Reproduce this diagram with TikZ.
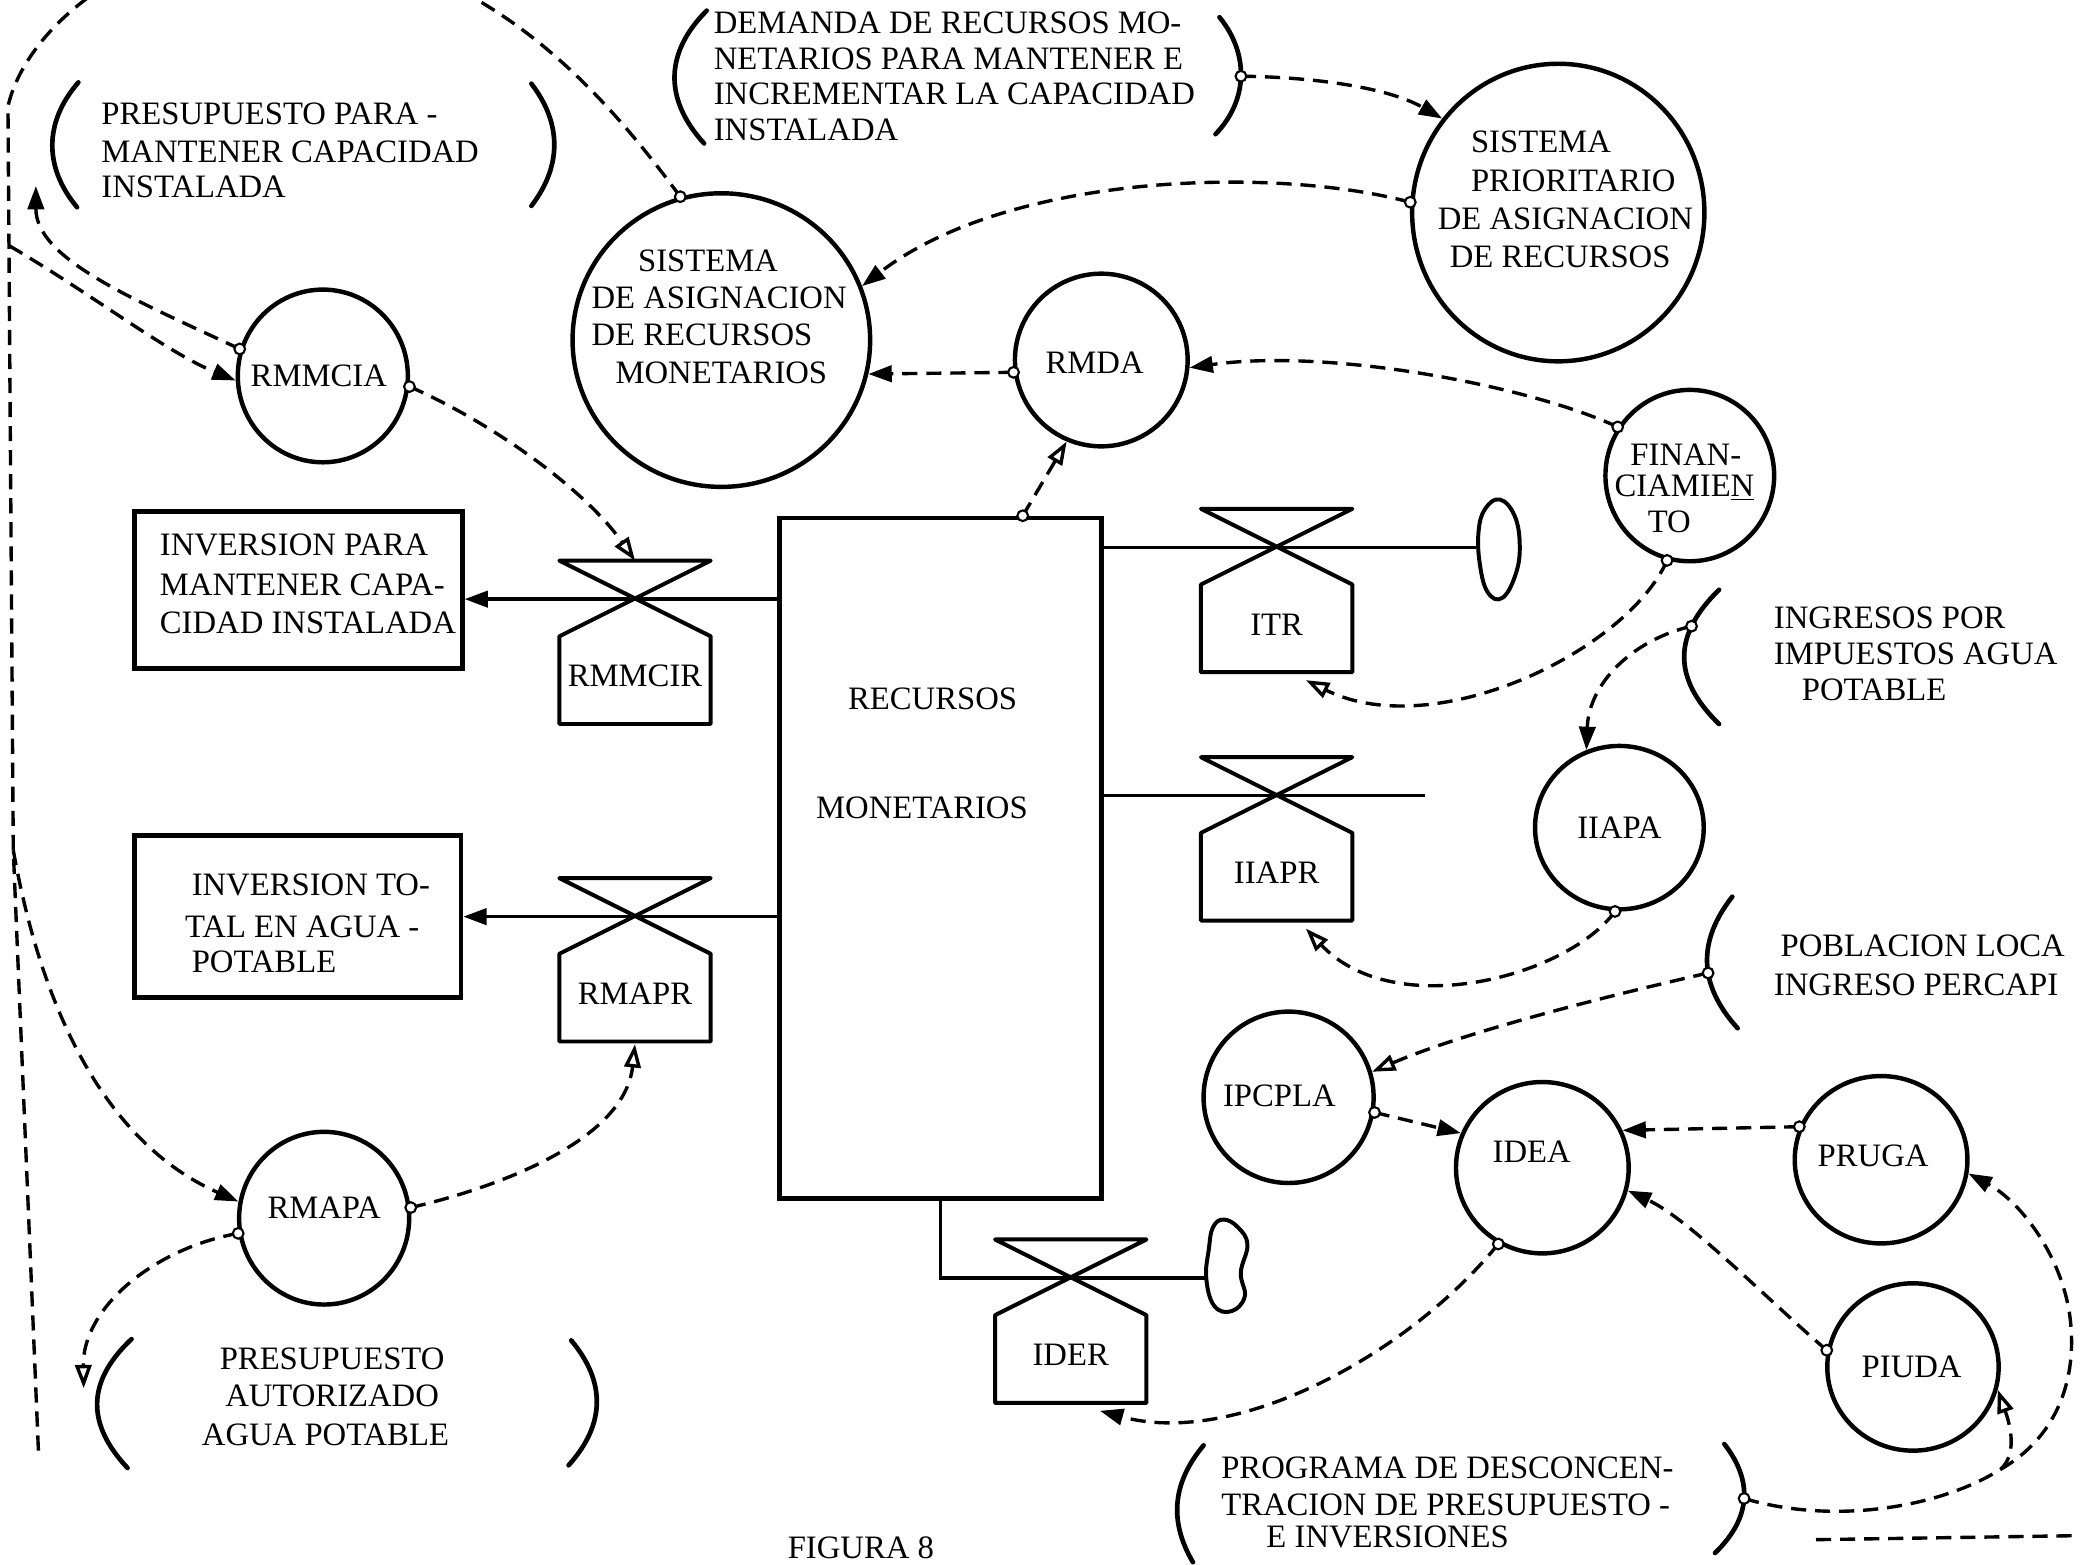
\documentclass[tikz,border=0pt]{standalone}
\usepackage{fontspec}
\setmainfont{Liberation Serif}
\usetikzlibrary{shapes.geometric,arrows.meta,calc}
\newcommand\lbfont{\fontsize{14}{16}\selectfont}
\newcommand\valvesym[4]{%
  \coordinate (#1) at (#2,#3);
  \coordinate (#1-t) at (#2,#3-29);
  \coordinate (#1-b) at (#2,#3+96);
  \coordinate (#1-br) at (#2+22,#3+100);
  \draw[valv] (#2-57,#3-29) -- (#2+57,#3-29) -- (#2-57,#3+28) -- (#2-57,#3+94) -- (#2+57,#3+94) -- (#2+57,#3+28) -- cycle;
  \node[lbl] (#1-l) at (#2,#3+58) {#4};
}
\begin{document}
\begin{tikzpicture}[x=0.2mm,y=-0.2mm,
  circ/.style={ellipse, draw, line width=1.9pt, inner sep=0pt},
  lbl/.style={font=\lbfont, inner sep=0pt},
  lw/.style={font=\lbfont, inner sep=0pt, anchor=west},
  dsh/.style={line width=1.45pt, dash pattern=on 6.5pt off 3.8pt},
  fa/.style={-{Triangle[length=10pt,width=7pt]}},
  oa/.style={-{Triangle[open,length=10pt,width=7pt]}},
  oc/.style={circle, draw, fill=white, inner sep=0pt, minimum size=4.6pt, line width=0.9pt},
  flow/.style={line width=1.5pt},
  valv/.style={line width=1.7pt, line join=round},
  boxs/.style={draw, line width=2pt, inner sep=0pt},
  paren/.style={line width=2pt, line cap=round}]
\useasboundingbox (0,0) rectangle (1568,1178);
\fill[white] (0,0) rectangle (1568,1178);
\clip (0,0) rectangle (1568,1178);

% ---------- circles ----------
\node[circ, minimum width=44.8mm, minimum height=44.2mm] (sist) at (543,256) {};
\node[circ, minimum width=44mm, minimum height=44.8mm] (prior) at (1173,160) {};
\node[circ, minimum width=25.6mm, minimum height=26mm] (rmmcia) at (243,283) {};
\node[circ, minimum width=26mm, minimum height=26mm] (rmda) at (829,271) {};
\node[circ, minimum width=25.4mm, minimum height=25.8mm] (fin) at (1272,358) {};
\node[circ, minimum width=25.4mm, minimum height=24.6mm] (iiapa) at (1219,623) {};
\node[circ, minimum width=25.6mm, minimum height=25.8mm] (ipcpla) at (970,826) {};
\node[circ, minimum width=26mm, minimum height=25.8mm] (idea) at (1161,879) {};
\node[circ, minimum width=26mm, minimum height=25.2mm] (pruga) at (1416,873) {};
\node[circ, minimum width=25.8mm, minimum height=25.2mm] (piuda) at (1440,1029) {};
\node[circ, minimum width=25.6mm, minimum height=26mm] (rmapa) at (244,917) {};

% ---------- boxes ----------
\node[boxs, minimum width=48.4mm, minimum height=102.4mm] (rec) at (708,646) {};
\node[boxs, minimum width=49.4mm, minimum height=23.6mm] (inv1) at (224.5,444) {};
\node[boxs, minimum width=49.2mm, minimum height=24.4mm] (inv2) at (224,690) {};

% ---------- valves ----------
\valvesym{rmmcir}{478}{451}{RMMCIR}
\valvesym{rmapr}{478}{690}{RMAPR}
\valvesym{itr}{961}{412}{ITR}
\valvesym{iiapr}{961}{599}{IIAPR}
\valvesym{ider}{806}{962}{IDER}

% ---------- clouds ----------
\draw[valv] plot[smooth cycle, tension=0.7] coordinates {(1129,376) (1140,388) (1144,410) (1141,432) (1131,450) (1120,446) (1114,425) (1113,400) (1118,383)};
\draw[valv] plot[smooth cycle, tension=0.7] coordinates {(921,918) (932,924) (939,937) (934,958) (937,976) (927,987) (914,983) (908,962) (910,940) (913,924)};
\coordinate (itrcloud) at (1114,412);
\coordinate (iiaprend) at (1073,599);
\coordinate (idercloud) at (908,962);

% ---------- flows ----------
\draw[flow,fa] (rec.west |- rmmcir) -- (inv1.east |- rmmcir);
\draw[flow,fa] (rec.west |- rmapr) -- (inv2.east |- rmapr);
\draw[flow] (rec.east |- itr) -- (itrcloud);
\draw[flow] (rec.east |- iiapr) -- (iiaprend);
\draw[flow] (rec.south) |- (ider) -- (idercloud);

% ---------- parentheses ----------
\draw[paren] (59,62) .. controls (33,92) and (33,126) .. (58,156);
\draw[paren] (400,63) .. controls (423,93) and (423,125) .. (400,155);
\draw[paren] (532,8) .. controls (500,40) and (500,75) .. (530,108);
\draw[paren] (918,13) .. controls (940,40) and (940,75) .. (915,101) coordinate[pos=0.5] (demo);
\draw[paren] (99,1008) .. controls (65,1040) and (65,1072) .. (96,1105);
\draw[paren] (430,1009) .. controls (456,1040) and (456,1072) .. (428,1103);
\draw[paren] (1294,444) .. controls (1259,478) and (1259,511) .. (1294,545) coordinate[pos=0.27] (ingo);
\draw[paren] (1304,675) .. controls (1278,708) and (1278,741) .. (1308,774) coordinate[pos=0.58] (pobo);
\draw[paren] (906,1088) .. controls (881,1118) and (881,1147) .. (898,1176);
\draw[paren] (1298,1087) .. controls (1319,1114) and (1319,1142) .. (1291,1169) coordinate[pos=0.5] (progo);

% ---------- named free ends ----------
\coordinate (j1) at (7,185);
\coordinate (j2) at (10,640);
\coordinate (lvend) at (29,1094);
\coordinate (pmin) at (27,140);
\coordinate (pain) at (63,1045);
\coordinate (rectop) at ($(rec.north west)!0.752!(rec.north east)$);
\coordinate (sp) at (1506,1106);
\coordinate (bl1) at (1367,1159);
\coordinate (bl2) at (1562,1156);

% ---------- dashed connectors ----------
\draw[dsh] (sist.106) .. controls (440,50) and (350,-40) .. (200,-45) .. controls (100,-45) and (20,20) .. (6,80) -- (j2) -- (lvend);
\draw[dsh,fa] (j1) .. controls (70,222) and (125,265) .. (rmmcia.183);
\draw[dsh,fa] (rmmcia.162) .. controls (100,225) and (27,195) .. (pmin);
\draw[dsh,oa] (rmmcia.-7) .. controls (370,318) and (440,368) .. (rmmcir-t);
\draw[dsh,fa] (j2) .. controls (35,780) and (90,865) .. (rmapa.169);
\draw[dsh,oa] (rmapa.7) .. controls (370,895) and (470,860) .. (rmapr-b);
\draw[dsh,oa] (rmapa.190) .. controls (115,940) and (62,985) .. (pain);
\draw[dsh,fa] (demo) .. controls (990,58) and (1045,66) .. (prior.141);
\draw[dsh,fa] (prior.176) .. controls (960,125) and (760,130) .. (sist.21);
\draw[dsh,fa] (rmda.188) -- (sist.347);
\draw[dsh,fa] (fin.146) .. controls (1150,290) and (1000,262) .. (rmda.355);
\draw[dsh,oa] (rectop) -- (rmda.247);
\draw[dsh,oa] (fin.255) .. controls (1225,490) and (1080,560) .. (itr-br);
\draw[dsh,fa] (ingo) .. controls (1228,482) and (1196,515) .. (iiapa.113);
\draw[dsh,oa] (iiapa.267) .. controls (1180,735) and (1050,770) .. (iiapr-br);
\draw[dsh,oa] (pobo) .. controls (1200,752) and (1100,778) .. (ipcpla.17);
\draw[dsh,fa] (ipcpla.350) -- (idea.157);
\draw[dsh,fa] (pruga.158) -- (idea.25);
\draw[dsh,fa] (piuda.169) .. controls (1330,978) and (1272,918) .. (idea.345);
\draw[dsh,fa] (idea.240) .. controls (1060,1020) and (930,1090) .. (ider-br);
\draw[dsh,oa] (progo) .. controls (1380,1148) and (1460,1135) .. (sp) .. controls (1518,1095) and (1514,1075) .. (piuda.345);
\draw[dsh,fa] (sp) .. controls (1548,1082) and (1562,1040) .. (1559,1000) .. controls (1556,950) and (1522,905) .. (pruga.351);
\draw[dsh] (bl1) -- (bl2);

% ---------- small circles ----------
\node[oc] (o1) at (sist.106) {};
\node[oc] (o2) at (prior.176) {};
\node[oc] (o3) at (demo) {};
\node[oc] (o4) at (rmmcia.162) {};
\node[oc] (o5) at (rmmcia.-7) {};
\node[oc] (o6) at (rmda.188) {};
\node[oc] (o7) at (rectop) {};
\node[oc] (o8) at (fin.146) {};
\node[oc] (o9) at (fin.255) {};
\node[oc] (o10) at (ingo) {};
\node[oc] (o11) at (iiapa.267) {};
\node[oc] (o12) at (pobo) {};
\node[oc] (o13) at (ipcpla.350) {};
\node[oc] (o14) at (pruga.158) {};
\node[oc] (o15) at (piuda.169) {};
\node[oc] (o16) at (idea.240) {};
\node[oc] (o17) at (progo) {};
\node[oc] (o18) at (rmapa.7) {};
\node[oc] (o19) at (rmapa.190) {};

% ---------- texts ----------
\node[lw] (pm1) at (76,86) {PRESUPUESTO PARA -};
\node[lw] (pm2) at (76,114) {MANTENER CAPACIDAD};
\node[lw] (pm3) at (76,141) {INSTALADA};

\node[lw] (dm1) at (537,17) {DEMANDA DE RECURSOS MO-};
\node[lw] (dm2) at (537,44) {NETARIOS PARA MANTENER E};
\node[lw] (dm3) at (537,71) {INCREMENTAR LA CAPACIDAD};
\node[lw] (dm4) at (537,98) {INSTALADA};

\node[lw] (sa1) at (480,196) {SISTEMA};
\node[lw] (sa2) at (445,224) {DE ASIGNACION};
\node[lw] (sa3) at (445,252) {DE RECURSOS};
\node[lw] (sa4) at (463,281) {MONETARIOS};

\node[lw] (sp1) at (1107,107) {SISTEMA};
\node[lw] (sp2) at (1107,136) {PRIORITARIO};
\node[lw] (sp3) at (1082,165) {DE ASIGNACION};
\node[lw] (sp4) at (1091,193) {DE RECURSOS};

\node[lbl] (t-rmmcia) at (240,283) {RMMCIA};
\node[lbl] (t-rmda) at (824,273) {RMDA};
\node[lw] (f1) at (1227,342) {FINAN-};
\node[lw] (f2) at (1215,367) {CIAMIE\underline{N}};
\node[lw] (f3) at (1240,393) {TO};

\node[lw] (i1a) at (120,410) {INVERSION PARA};
\node[lw] (i1b) at (120,440) {MANTENER CAPA-};
\node[lw] (i1c) at (120,469) {CIDAD INSTALADA};

\node[lw] (i2a) at (144,666) {INVERSION TO-};
\node[lw] (i2b) at (139,698) {TAL EN AGUA -};
\node[lw] (i2c) at (144,724) {POTABLE};

\node[lbl] (r1) at (702,526) {RECURSOS};
\node[lbl] (r2) at (694,608) {MONETARIOS};

\node[lw] (g1) at (1335,465) {INGRESOS POR};
\node[lw] (g2) at (1335,492) {IMPUESTOS AGUA};
\node[lw] (g3) at (1356,519) {POTABLE};

\node[lbl] (t-iiapa) at (1219,623) {IIAPA};
\node[lw] (p1) at (1340,712) {POBLACION LOCA};
\node[lw] (p2) at (1335,741) {INGRESO PERCAPI};

\node[lbl] (t-ipcpla) at (963,825) {IPCPLA};
\node[lbl] (t-idea) at (1153,867) {IDEA};
\node[lbl] (t-pruga) at (1410,870) {PRUGA};
\node[lbl] (t-piuda) at (1439,1029) {PIUDA};
\node[lbl] (t-rmapa) at (244,909) {RMAPA};

\node[lbl] (a1) at (250,1023) {PRESUPUESTO};
\node[lbl] (a2) at (250,1051) {AUTORIZADO};
\node[lbl] (a3) at (245,1080) {AGUA POTABLE};

\node[lw] (q1) at (919,1105) {PROGRAMA DE DESCONCEN-};
\node[lw] (q2) at (919,1133) {TRACION DE PRESUPUESTO -};
\node[lw] (q3) at (953,1157) {E INVERSIONES};

\node[lbl, anchor=base] (fig) at (648,1173) {FIGURA 8};
\end{tikzpicture}
\end{document}
